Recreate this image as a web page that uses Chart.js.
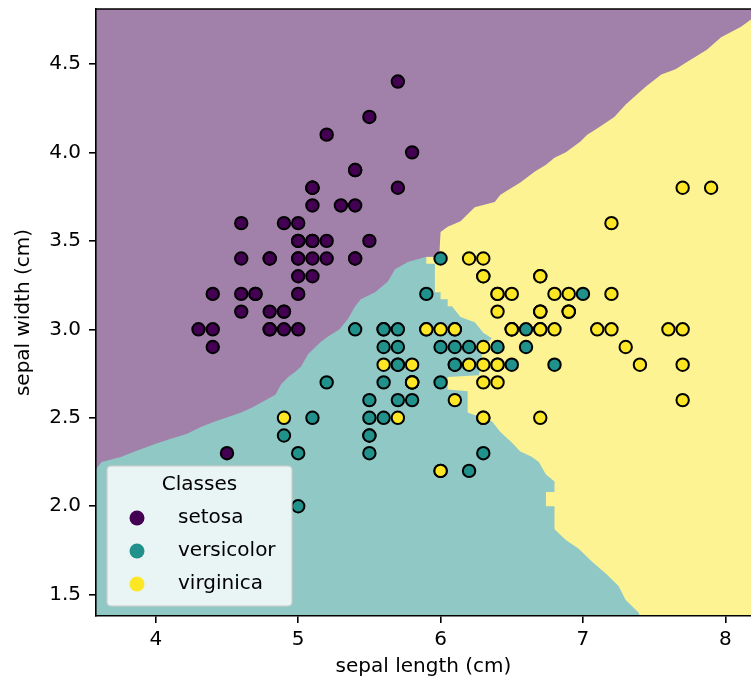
<!DOCTYPE html>
<html>
<head>
<meta charset="utf-8">
<script src="https://cdn.jsdelivr.net/npm/chart.js@4.4.0/dist/chart.umd.min.js"></script>
<style>
  html, body { margin: 0; padding: 0; background: #fff; }
  #wrap { width: 751px; height: 684px; }
</style>
</head>
<body>
<div id="wrap"><canvas id="chart" width="751" height="684"></canvas></div>
<script>
const classNames = ["setosa", "versicolor", "virginica"];
const pointColors = ["#440154", "#21918c", "#fde725"];
// same colours at alpha 0.5 over white
const regionColors = ["#a180a9", "#90c8c5", "#fef392"];

// sepal length, sepal width
const setosa = [
  [5.1,3.5],[4.9,3.0],[4.7,3.2],[4.6,3.1],[5.0,3.6],[5.4,3.9],[4.6,3.4],[5.0,3.4],[4.4,2.9],[4.9,3.1],
  [5.4,3.7],[4.8,3.4],[4.8,3.0],[4.3,3.0],[5.8,4.0],[5.7,4.4],[5.4,3.9],[5.1,3.5],[5.7,3.8],[5.1,3.8],
  [5.4,3.4],[5.1,3.7],[4.6,3.6],[5.1,3.3],[4.8,3.4],[5.0,3.0],[5.0,3.4],[5.2,3.5],[5.2,3.4],[4.7,3.2],
  [4.8,3.1],[5.4,3.4],[5.2,4.1],[5.5,4.2],[4.9,3.1],[5.0,3.2],[5.5,3.5],[4.9,3.6],[4.4,3.0],[5.1,3.4],
  [5.0,3.5],[4.5,2.3],[4.4,3.2],[5.0,3.5],[5.1,3.8],[4.8,3.0],[5.1,3.8],[4.6,3.2],[5.3,3.7],[5.0,3.3]
];
const versicolor = [
  [7.0,3.2],[6.4,3.2],[6.9,3.1],[5.5,2.3],[6.5,2.8],[5.7,2.8],[6.3,3.3],[4.9,2.4],[6.6,2.9],[5.2,2.7],
  [5.0,2.0],[5.9,3.0],[6.0,2.2],[6.1,2.9],[5.6,2.9],[6.7,3.1],[5.6,3.0],[5.8,2.7],[6.2,2.2],[5.6,2.5],
  [5.9,3.2],[6.1,2.8],[6.3,2.5],[6.1,2.8],[6.4,2.9],[6.6,3.0],[6.8,2.8],[6.7,3.0],[6.0,2.9],[5.7,2.6],
  [5.5,2.4],[5.5,2.4],[5.8,2.7],[6.0,2.7],[5.4,3.0],[6.0,3.4],[6.7,3.1],[6.3,2.3],[5.6,3.0],[5.5,2.5],
  [5.5,2.6],[6.1,3.0],[5.8,2.6],[5.0,2.3],[5.6,2.7],[5.7,3.0],[5.7,2.9],[6.2,2.9],[5.1,2.5],[5.7,2.8]
];
const virginica = [
  [6.3,3.3],[5.8,2.7],[7.1,3.0],[6.3,2.9],[6.5,3.0],[7.6,3.0],[4.9,2.5],[7.3,2.9],[6.7,2.5],[7.2,3.6],
  [6.5,3.2],[6.4,2.7],[6.8,3.0],[5.7,2.5],[5.8,2.8],[6.4,3.2],[6.5,3.0],[7.7,3.8],[7.7,2.6],[6.0,2.2],
  [6.9,3.2],[5.6,2.8],[7.7,2.8],[6.3,2.7],[6.7,3.3],[7.2,3.2],[6.2,2.8],[6.1,3.0],[6.4,2.8],[7.2,3.0],
  [7.4,2.8],[7.9,3.8],[6.4,2.8],[6.3,2.8],[6.1,2.6],[7.7,3.0],[6.3,3.4],[6.4,3.1],[6.0,3.0],[6.9,3.1],
  [6.7,3.1],[6.9,3.1],[5.8,2.7],[6.8,3.2],[6.7,3.3],[6.7,3.0],[6.3,2.5],[6.5,3.0],[6.2,3.4],[5.9,3.0]
];

const xTicks = [4, 5, 6, 7, 8];
const yTicks = [1.5, 2.0, 2.5, 3.0, 3.5, 4.0, 4.5];
const xRange = [3.58, 8.18];
const yRange = [1.38, 4.81];

// lower edge of the setosa region, left to right
const setosaEdge = [
  [3.58,2.21],[3.62,2.25],[3.76,2.28],[3.85,2.31],[3.99,2.35],[4.10,2.38],[4.22,2.41],[4.32,2.45],
  [4.42,2.48],[4.60,2.53],[4.68,2.56],[4.75,2.59],[4.84,2.63],[4.88,2.69],[4.93,2.73],[4.98,2.76],
  [5.02,2.79],[5.07,2.86],[5.16,2.93],[5.21,2.96],[5.29,3.00],[5.35,3.06],[5.40,3.13],[5.44,3.17],
  [5.54,3.21],[5.63,3.27],[5.68,3.34],[5.77,3.38],[5.90,3.41],[5.99,3.41],[6.00,3.55],[6.05,3.58],
  [6.14,3.61],[6.24,3.69],[6.38,3.72],[6.42,3.76],[6.56,3.83],[6.66,3.89],[6.74,3.93],[6.80,3.97],
  [6.88,4.00],[6.98,4.06],[7.03,4.10],[7.11,4.14],[7.22,4.20],[7.30,4.27],[7.44,4.37],[7.55,4.44],
  [7.65,4.47],[7.73,4.51],[7.87,4.58],[7.97,4.65],[8.11,4.71],[8.18,4.75]
];
// left edge of the virginica region, top to bottom
const virginicaEdge = [
  [5.99,3.55],[5.99,3.41],[5.90,3.41],[5.90,3.37],[5.96,3.37],[5.96,3.21],[6.00,3.21],[6.00,3.17],
  [6.05,3.17],[6.05,3.13],[6.08,3.13],[6.14,3.07],[6.24,3.04],[6.30,2.98],[6.36,2.95],[6.30,2.90],
  [6.27,2.74],[6.05,2.73],[6.05,2.66],[6.19,2.65],[6.19,2.53],[6.36,2.48],[6.42,2.42],[6.50,2.36],
  [6.56,2.31],[6.64,2.28],[6.69,2.25],[6.74,2.18],[6.80,2.14],[6.80,2.08],[6.74,2.08],[6.74,2.00],
  [6.80,2.00],[6.80,1.87],[6.88,1.81],[6.97,1.76],[7.06,1.69],[7.16,1.62],[7.25,1.55],[7.30,1.47],
  [7.34,1.44],[7.39,1.40],[7.40,1.38]
];

const toXY = (arr) => arr.map(([x, y]) => ({ x, y }));

const [x0, x1] = xRange;
const [y0, y1] = yRange;
const setosaShape = setosaEdge.concat([[x1, y1], [x0, y1]]);
const virginicaShape = virginicaEdge.concat([[x1, y0], [x1, y1], [virginicaEdge[0][0], y1]]);
const versicolorShape = [[x0, y0], [x1, y0], [x1, y1], [x0, y1]];

function region(shape, color, order) {
  return {
    type: "scatter",
    data: toXY(shape),
    showLine: true,
    fill: "shape",
    backgroundColor: color,
    borderWidth: 0,
    borderColor: "transparent",
    pointRadius: 0,
    tension: 0,
    order,
  };
}

function points(label, arr, color, order) {
  return {
    label,
    data: toXY(arr),
    backgroundColor: color,
    borderColor: "#000",
    borderWidth: 2,
    pointRadius: 6.2,
    order,
  };
}

// top spine, and the legend box in the lower left corner
const frameAndLegend = {
  id: "frameAndLegend",
  afterDatasetsDraw(chart) {
    const { ctx, chartArea } = chart;
    ctx.save();
    ctx.strokeStyle = "#000";
    ctx.lineWidth = 1.6;
    ctx.beginPath();
    ctx.moveTo(chartArea.left, chartArea.top);
    ctx.lineTo(chartArea.right, chartArea.top);
    ctx.stroke();

    const w = 185, h = 140;
    const x = chartArea.left + 11;
    const y = chartArea.bottom - 10 - h;
    ctx.beginPath();
    ctx.roundRect(x, y, w, h, 4);
    ctx.fillStyle = "rgba(255,255,255,0.8)";
    ctx.fill();
    ctx.strokeStyle = "rgba(204,204,204,0.8)";
    ctx.lineWidth = 1.5;
    ctx.stroke();

    ctx.font = "20px 'DejaVu Sans'";
    ctx.textBaseline = "middle";
    ctx.textAlign = "center";
    ctx.fillStyle = "#000";
    ctx.fillText("Classes", x + w / 2, y + 19);
    classNames.forEach((name, i) => {
      const cy = y + 52 + i * 33;
      ctx.beginPath();
      ctx.arc(x + 30, cy, 7.5, 0, Math.PI * 2);
      ctx.fillStyle = pointColors[i];
      ctx.fill();
      ctx.fillStyle = "#000";
      ctx.textAlign = "left";
      ctx.fillText(name, x + 71, cy);
    });
    ctx.restore();
  },
};

Chart.defaults.font.family = "'DejaVu Sans'";
Chart.defaults.font.size = 20;
Chart.defaults.color = "#000";

new Chart(document.getElementById("chart"), {
  type: "scatter",
  data: {
    datasets: [
      points(classNames[2], virginica, pointColors[2], 1),
      points(classNames[1], versicolor, pointColors[1], 2),
      points(classNames[0], setosa, pointColors[0], 3),
      region(setosaShape, regionColors[0], 4),
      region(virginicaShape, regionColors[2], 5),
      region(versicolorShape, regionColors[1], 6),
    ],
  },
  options: {
    responsive: false,
    animation: false,
    devicePixelRatio: 1,
    layout: { autoPadding: false, padding: { top: 9, right: 0, left: 0, bottom: 0 } },
    plugins: {
      legend: { display: false },
      tooltip: { enabled: false },
    },
    scales: {
      x: {
        type: "linear",
        min: x0,
        max: x1,
        afterFit: (s) => { s.height = 68; s.paddingLeft = 0; s.paddingRight = 0; },
        afterBuildTicks: (s) => { s.ticks = xTicks.map((v) => ({ value: v })); },
        ticks: { padding: 5, callback: (v) => String(v) },
        grid: { drawOnChartArea: false, tickLength: 7, color: "#000", lineWidth: 1.6, z: 1 },
        border: { color: "#000", width: 1.6, z: 1 },
        title: { display: true, text: "sepal length (cm)", padding: { top: 0, bottom: 5 } },
      },
      y: {
        type: "linear",
        min: y0,
        max: y1,
        afterFit: (s) => { s.width = 96; s.paddingTop = 0; s.paddingBottom = 0; },
        afterBuildTicks: (s) => { s.ticks = yTicks.map((v) => ({ value: v })); },
        ticks: { padding: 8, callback: (v) => v.toFixed(1) },
        grid: { drawOnChartArea: false, tickLength: 7, color: "#000", lineWidth: 1.6, z: 1 },
        border: { color: "#000", width: 1.6, z: 1 },
        title: { display: true, text: "sepal width (cm)", padding: { top: 12, bottom: 0 } },
      },
    },
  },
  plugins: [frameAndLegend],
});
</script>
</body>
</html>
